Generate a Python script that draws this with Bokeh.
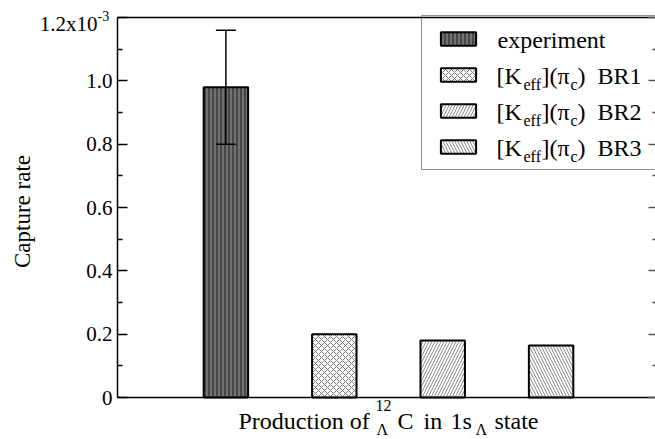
import math
from bokeh.plotting import figure
from bokeh.models import (Range1d, FixedTicker, LinearAxis, Label, Whisker,
                          TeeHead, ColumnDataSource, Legend, LegendItem)
from bokeh.embed import file_html
from bokeh.resources import INLINE

# ---------------- data (capture rate, in units of 1e-3) ----------------
series_names = ["experiment", "BR1", "BR2", "BR3"]
bar_positions = [1, 2, 3, 4]
capture_rate = [0.98, 0.20, 0.18, 0.164]
experiment_error = 0.18
y_ticks = [0, 0.2, 0.4, 0.6, 0.8, 1.0, 1.2]
y_minor_ticks = [0.1, 0.3, 0.5, 0.7, 0.9, 1.1]
y_tick_labels = ["0", "0.2", "0.4", "0.6", "0.8", "1.0", ""]

FONT = "Liberation Serif"
W, H = 655, 439
AX_LEFT, AX_BOTTOM, AX_TOP = 117, 397, 17     # pixel positions of the axes box
LEGEND_LEFT, LEGEND_BOTTOM = 421, 170
PX_PER_X = 108.4                               # pixels per category step
PX_PER_Y = (AX_BOTTOM - AX_TOP) / y_ticks[-1]
BASELINE_FIX = 0.32                            # label baseline correction (em)

x_start = -AX_LEFT / PX_PER_X
x_end = (W - AX_LEFT) / PX_PER_X
y_start = -(H - AX_BOTTOM) / PX_PER_Y
y_end = y_ticks[-1] + AX_TOP / PX_PER_Y
y_legend_bottom = (AX_BOTTOM - LEGEND_BOTTOM) / PX_PER_Y

p = figure(width=W, height=H, output_backend="svg", toolbar_location=None,
           x_range=Range1d(x_start, x_end), y_range=Range1d(y_start, y_end),
           min_border=0, x_axis_location=None, y_axis_location=None)
p.outline_line_color = None
p.grid.visible = False

styles = [
    dict(fill_color="#474747", hatch_pattern="|", hatch_color="#8e8e8e", hatch_scale=4, hatch_weight=1.2),
    dict(fill_color="white", hatch_pattern="x", hatch_color="#7a7a7a", hatch_scale=6, hatch_weight=1),
    dict(fill_color="white", hatch_pattern="/", hatch_color="#8a8a8a", hatch_scale=6, hatch_weight=1),
    dict(fill_color="white", hatch_pattern="\\", hatch_color="#8a8a8a", hatch_scale=6, hatch_weight=1),
]

renderers = []
for xpos, val, st in zip(bar_positions, capture_rate, styles):
    src = ColumnDataSource(dict(x=[xpos], top=[val]))
    r = p.vbar(x="x", top="top", bottom=0, width=0.41, source=src,
               line_color="black", line_width=2, **st)
    renderers.append(r)

# error bar on the experiment
err_src = ColumnDataSource(dict(base=[bar_positions[0]],
                                upper=[capture_rate[0] + experiment_error],
                                lower=[capture_rate[0] - experiment_error]))
whisker = Whisker(source=err_src, base="base", upper="upper", lower="lower",
                  dimension="height", line_width=1.5, line_color="black",
                  upper_head=TeeHead(size=20, line_width=1.5, line_color="black"),
                  lower_head=TeeHead(size=20, line_width=1.5, line_color="black"),
                  level="annotation")
p.add_layout(whisker)

# ---------------- axes (placed at fixed data locations) ----------------
yax = LinearAxis(fixed_location=0, bounds=(0, y_ticks[-1]),
                 ticker=FixedTicker(ticks=y_ticks, minor_ticks=y_minor_ticks),
                 major_label_overrides=dict(zip(y_ticks, y_tick_labels)),
                 major_label_text_font=FONT, major_label_text_font_size="21px",
                 major_label_text_color="black", major_label_standoff=5,
                 major_tick_in=10, major_tick_out=0, minor_tick_in=5, minor_tick_out=0,
                 axis_line_width=1.5, major_tick_line_width=1.5, minor_tick_line_width=1.5)
p.add_layout(yax, "left")

xax = LinearAxis(fixed_location=0, bounds=(0, x_end), ticker=FixedTicker(ticks=[]),
                 major_tick_in=0, major_tick_out=0, minor_tick_in=0, minor_tick_out=0,
                 axis_line_width=1.5)
p.add_layout(xax, "below")

top_ax = LinearAxis(fixed_location=y_ticks[-1], bounds=(0, x_end), ticker=FixedTicker(ticks=[]),
                    major_tick_in=0, major_tick_out=0, minor_tick_in=0, minor_tick_out=0,
                    axis_line_width=1.5)
p.add_layout(top_ax, "above")

# right axis: only the part below the legend box is visible
rax = LinearAxis(fixed_location=x_end, bounds=(0, y_legend_bottom),
                 ticker=FixedTicker(ticks=y_ticks, minor_ticks=y_minor_ticks),
                 axis_line_color=None, major_tick_in=7, major_tick_out=0,
                 minor_tick_in=3, minor_tick_out=0,
                 major_tick_line_color="#555555", minor_tick_line_color="#555555",
                 major_tick_line_width=1.5, minor_tick_line_width=1.5,
                 major_label_overrides={t: "" for t in y_ticks}, major_label_standoff=0)
p.add_layout(rax, "right")

# ---------------- legend (box + swatches) ----------------
items = [LegendItem(label=" ", renderers=[r]) for r in renderers]
legend = Legend(items=items, location=(LEGEND_LEFT, H - LEGEND_BOTTOM), padding=14, spacing=19,
                glyph_width=44, glyph_height=17, label_standoff=15,
                label_width=160, label_height=17, label_text_font_size="1px",
                border_line_color="#222222", border_line_width=1,
                background_fill_alpha=0, margin=0, level="annotation")
p.add_layout(legend)


def add_text(text, sx, sy, size, align="left", angle=0.0):
    """sx, sy: pixel position of the text baseline in the picture, from its top-left."""
    fix = BASELINE_FIX * size
    if angle:
        sx -= fix
    else:
        sy -= fix
    p.add_layout(Label(x=sx, y=H - sy, x_units="screen", y_units="screen",
                       text=text, text_font=FONT, text_font_size=f"{size}px",
                       text_align=align, text_baseline="alphabetic",
                       angle=angle, text_color="black", level="overlay"))


# top tick label with exponent
add_text("1.2x10", 97, 30, 21, align="right")
add_text("-3", 97, 20, 14)

# y axis title
add_text("Capture rate", 29, 211, 23, align="center", angle=math.pi / 2)

# x axis title: Production of ^12_Λ C in 1s_Λ state
add_text("Production of", 238, 428, 24)
add_text("12", 375, 410, 16)
add_text("Λ", 376, 434, 16)
add_text("C", 397, 428, 24)
add_text("in", 423, 428, 24)
add_text("1s", 450, 428, 24)
add_text("Λ", 475, 434, 16)
add_text("state", 494, 428, 24)

# legend texts
for k, name in enumerate(series_names):
    base = 47 + 36 * k
    if k == 0:
        add_text(name, 497, base, 24)
    else:
        add_text("[K", 496, base, 24)
        add_text("eff", 523, base + 6, 16)
        add_text("](π", 541, base, 24)
        add_text("c", 570, base + 6, 16)
        add_text(")", 577, base, 24)
        add_text(name, 597, base, 24)

open("out.html", "w").write(file_html(p, INLINE))
